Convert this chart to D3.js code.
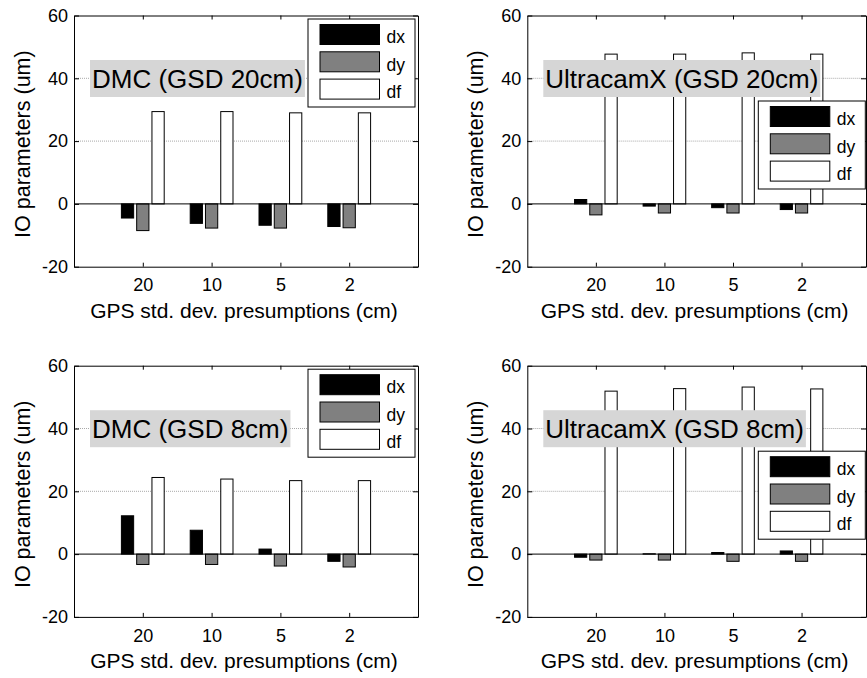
<!DOCTYPE html>
<html>
<head>
<meta charset="utf-8">
<script src="https://cdn.jsdelivr.net/npm/d3@7"></script>
<style>
  body { margin: 0; background: #fff; }
  svg text { font-family: "Liberation Sans", Arial, sans-serif; fill: #000; }
</style>
</head>
<body>
<svg id="fig" width="867" height="678"></svg>
<script>
// GPS std. dev. presumptions (cm), one group of bars each
var categories = ["20", "10", "5", "2"];
var seriesNames = ["dx", "dy", "df"];
var seriesColors = ["#000000", "#808080", "#ffffff"];
var yTicks = [-20, 0, 20, 40, 60];

// IO parameters (um)
var dmc20_dx = [-4.5, -6.2, -6.8, -7.2];
var dmc20_dy = [-8.5, -7.7, -7.7, -7.6];
var dmc20_df = [29.4, 29.4, 29.0, 29.0];

var ucx20_dx = [1.4, -0.7, -1.2, -1.8];
var ucx20_dy = [-3.5, -2.9, -2.9, -2.9];
var ucx20_df = [47.7, 47.7, 48.1, 47.7];

var dmc8_dx = [12.2, 7.6, 1.6, -2.3];
var dmc8_dy = [-3.3, -3.3, -3.8, -4.1];
var dmc8_df = [24.4, 23.9, 23.4, 23.4];

var ucx8_dx = [-1.0, 0.1, 0.5, 1.0];
var ucx8_dy = [-1.9, -1.9, -2.3, -2.3];
var ucx8_df = [51.9, 52.7, 53.2, 52.6];

var panelTitles = ["DMC (GSD 20cm)", "UltracamX (GSD 20cm)", "DMC (GSD 8cm)", "UltracamX (GSD 8cm)"];

// layout of the four axes (the right column is cut off by the picture edge)
var panels = [
    {title: panelTitles[0], series: [dmc20_dx, dmc20_dy, dmc20_df], left: 74, top: 15.5, width: 344, xmax: 5, legend: "upper"},
    {title: panelTitles[1], series: [ucx20_dx, ucx20_dy, ucx20_df], left: 527.3, top: 15.5, width: 338.7, xmax: 4.94, legend: "mid"},
    {title: panelTitles[2], series: [dmc8_dx, dmc8_dy, dmc8_df], left: 74, top: 365.7, width: 344, xmax: 5, legend: "upper"},
    {title: panelTitles[3], series: [ucx8_dx, ucx8_dy, ucx8_df], left: 527.3, top: 365.7, width: 338.7, xmax: 4.94, legend: "mid"}
];
var plotH = 251.2;

// matlab style grouped bars
var barOffset = 0.222;
var barWidth = 0.178;

var svg = d3.select('#fig');

function drawPanel(p){
    let g = svg.append('g');
    let x = d3.scaleLinear().domain([0, p.xmax]).range([p.left, p.left + p.width]);
    let y = d3.scaleLinear().domain([-20, 60]).range([p.top + plotH, p.top]);

    // grid lines
    g.selectAll('line.grid')
        .data([20, 40])
        .enter().append('line')
        .attr('class', 'grid')
        .attr('x1', x(0)).attr('x2', x(p.xmax))
        .attr('y1', d => y(d)).attr('y2', d => y(d))
        .attr('stroke', '#a8a8a8')
        .attr('stroke-width', 1)
        .attr('stroke-dasharray', '1,1');

    // bars
    p.series.forEach(function(vals, s){
        g.selectAll('rect.s' + s)
            .data(vals)
            .enter().append('rect')
            .attr('class', 's' + s)
            .attr('x', (d, i) => x(i + 1 + (s - 1) * barOffset - barWidth / 2))
            .attr('width', x(barWidth) - x(0))
            .attr('y', d => Math.min(y(d), y(0)))
            .attr('height', d => Math.abs(y(d) - y(0)))
            .attr('fill', seriesColors[s])
            .attr('stroke', '#000')
            .attr('stroke-width', 1);
    });

    // zero line
    g.append('line')
        .attr('x1', x(0)).attr('x2', x(p.xmax))
        .attr('y1', y(0)).attr('y2', y(0))
        .attr('stroke', '#000');

    // axes, ticks pointing inwards
    let idx = [1, 2, 3, 4];
    g.append('g')
        .attr('transform', 'translate(0,' + y(-20) + ')')
        .call(d3.axisBottom(x).tickValues(idx).tickFormat(i => categories[i - 1]).tickSize(-4).tickSizeOuter(0).tickPadding(12));
    g.append('g')
        .attr('transform', 'translate(0,' + y(60) + ')')
        .call(d3.axisTop(x).tickValues(idx).tickFormat('').tickSize(-4).tickSizeOuter(0));
    g.append('g')
        .attr('transform', 'translate(' + x(0) + ',0)')
        .call(d3.axisLeft(y).tickValues(yTicks).tickFormat(d => String(d)).tickSize(-5).tickSizeOuter(0).tickPadding(6));
    g.append('g')
        .attr('transform', 'translate(' + x(p.xmax) + ',0)')
        .call(d3.axisRight(y).tickValues(yTicks).tickFormat('').tickSize(-5).tickSizeOuter(0));
    g.selectAll('.domain').attr('stroke', '#000');
    g.selectAll('.tick line').attr('stroke', '#000');
    g.selectAll('.tick text').style('font-size', '18px').attr('fill', '#000');

    // axis titles
    g.append('text')
        .attr('x', p.left + p.width / 2 - 2)
        .attr('y', p.top + plotH + 51.5)
        .attr('text-anchor', 'middle')
        .style('font-size', '21px')
        .text('GPS std. dev. presumptions (cm)');
    g.append('text')
        .attr('transform', 'translate(' + (p.left - 44) + ',' + (p.top + plotH / 2 + 3) + ') rotate(-90)')
        .attr('text-anchor', 'middle')
        .style('font-size', '21.5px')
        .text('IO parameters (um)');

    // grey title box
    let tb = g.append('g');
    let bx = p.left + 16, by = p.top + 44.5;
    let rect = tb.append('rect').attr('x', bx).attr('y', by).attr('height', 37).attr('fill', '#d6d6d6');
    let t = tb.append('text')
        .attr('x', bx + 2)
        .attr('y', by + 28)
        .style('font-size', '26px')
        .text(p.title);
    rect.attr('width', t.node().getComputedTextLength() + 4);

    // legend
    let lx, ly;
    if(p.legend == "upper"){
        lx = p.left + p.width - 110;
        ly = p.top + 3.5;
    } else {
        lx = p.left + 231;
        ly = p.top + 85.5;
    }
    let leg = g.append('g').attr('transform', 'translate(' + lx + ',' + ly + ')');
    leg.append('rect')
        .attr('width', 107).attr('height', 88)
        .attr('fill', '#fff').attr('stroke', '#000');
    seriesNames.forEach(function(name, k){
        leg.append('rect')
            .attr('x', 12).attr('y', 5.5 + k * 27.3)
            .attr('width', 59.5).attr('height', 20)
            .attr('fill', seriesColors[k]).attr('stroke', '#000');
        leg.append('text')
            .attr('x', 78.5).attr('y', 24.3 + k * 27.3)
            .style('font-size', '17.5px')
            .text(name);
    });
}

panels.forEach(drawPanel);
</script>
</body>
</html>
